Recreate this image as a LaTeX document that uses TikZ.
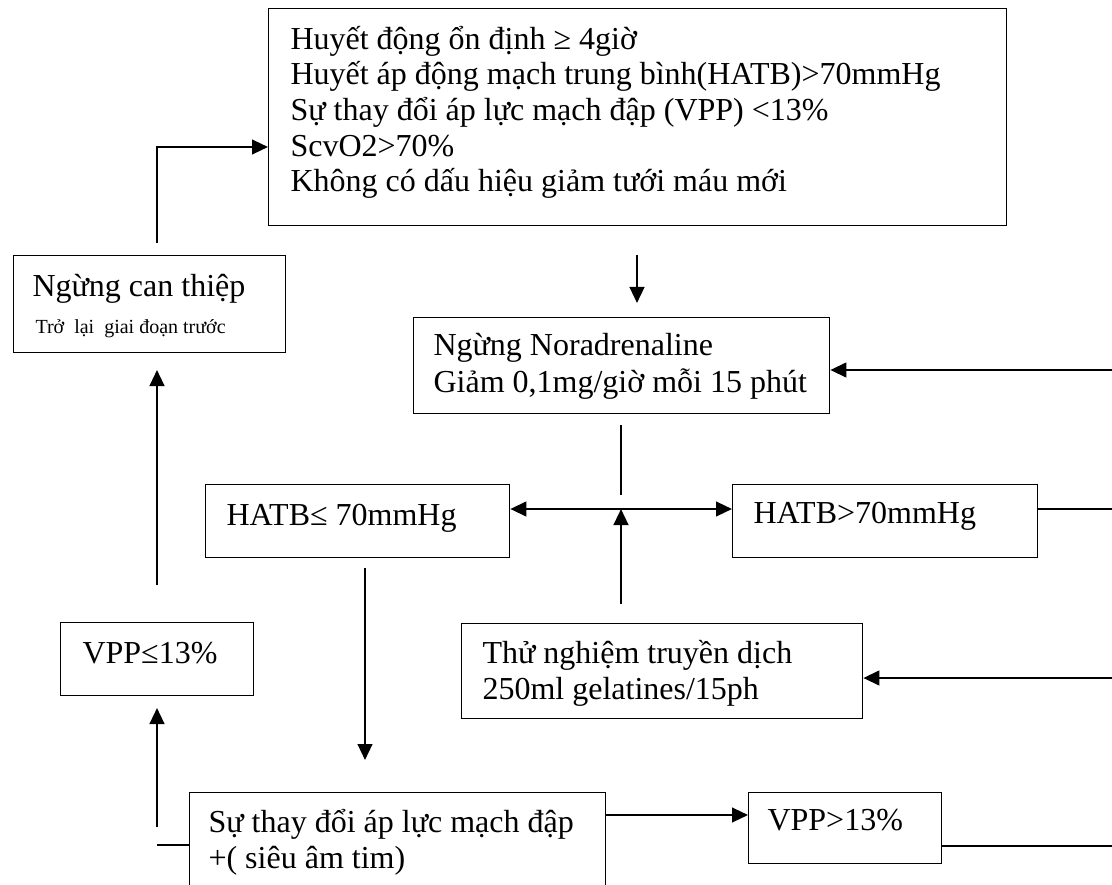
\documentclass[tikz,border=0pt]{standalone}
\usepackage{fontspec}
\setmainfont{Liberation Serif}
\usetikzlibrary{arrows.meta}
\begin{document}
\begin{tikzpicture}[x=0.375pt,y=-0.375pt,
  box/.style 2 args={draw, line width=0.5pt, inner sep=0pt, anchor=north west,
    minimum width=#1*0.375pt, minimum height=#2*0.375pt},
  txt/.style={anchor=base west, inner sep=0pt, font=\fontsize{12}{14}\selectfont},
  small/.style={anchor=base west, inner sep=0pt, font=\fontsize{7.5}{9}\selectfont},
  arr/.style={line width=0.85pt, -{Triangle[length=6pt,width=5.5pt]}},
  dbl/.style={line width=0.85pt, {Triangle[length=6pt,width=5.5pt]}-{Triangle[length=6pt,width=5.5pt]}},
  ln/.style={line width=0.5pt}]
\clip (0,0) rectangle (1112,884);
\fill[white] (0,0) rectangle (1112,884);

% boxes
\node[box={738}{217}] (top) at (268,8) {};
\node[box={272}{97}]  (stop) at (13,255) {};
\node[box={416}{96}]  (nor) at (413,317) {};
\node[box={304}{73}]  (hl) at (205,484) {};
\node[box={305}{73}]  (hr) at (732,484) {};
\node[box={401}{95}]  (th) at (461,623) {};
\node[box={193}{73}]  (vl) at (60,622) {};
\node[box={416}{120}] (bt) at (189,792) {};
\node[box={193}{71}]  (vg) at (748,792) {};

% texts
\node[txt] (t1) at (290,50)  {Huyết động ổn định ≥ 4giờ};
\node[txt] (t2) at (290,85)  {Huyết áp động mạch trung bình(HATB)>70mmHg};
\node[txt] (t3) at (290,121) {Sự thay đổi áp lực mạch đập (VPP) <13\%};
\node[txt] (t4) at (290,157) {ScvO2>70\%};
\node[txt] (t5) at (290,192) {Không có dấu hiệu giảm tưới máu mới};
\node[txt] (s1) at (32,297) {Ngừng can thiệp};
\node[small] (s2) at (35,333) {Trở~ lại~ giai đoạn trước};
\node[txt] (n1) at (433,355) {Ngừng Noradrenaline};
\node[txt] (n2) at (433,392) {Giảm 0,1mg/giờ mỗi 15 phút};
\node[txt] (h1) at (226,525) {HATB≤ 70mmHg};
\node[txt] (h2) at (753,523) {HATB>70mmHg};
\node[txt] (th1) at (482,663) {Thử nghiệm truyền dịch};
\node[txt] (th2) at (482,699) {250ml gelatines/15ph};
\node[txt] (v1) at (82,663) {VPP≤13\%};
\node[txt] (b1t) at (208,832) {Sự thay đổi áp lực mạch đập};
\node[txt] (b2t) at (208,868) {+( siêu âm tim)};
\node[txt] (v2) at (767,830) {VPP>13\%};

% free ends of connectors
\coordinate (a1) at (157,243);
\coordinate (a2) at (157,147);
\coordinate (b1) at (637,255);
\coordinate (b2) at (637,303);
\coordinate (r1) at (1112,370);
\coordinate (c1) at (621,425);
\coordinate (c2) at (621,495);
\coordinate (j)  at (621,509);
\coordinate (d1) at (621,604);
\coordinate (r2) at (1112,509);
\coordinate (r3) at (1112,678);
\coordinate (e1) at (365,568);
\coordinate (e2) at (365,760);
\coordinate (f)  at (0,815);
\coordinate (g)  at (0,846);
\coordinate (r4) at (1112,846);
\coordinate (h)  at (157,845);
\coordinate (k1) at (157,827);
\coordinate (k2) at (157,708);
\coordinate (m1) at (157,585);
\coordinate (m2) at (157,370);

% connectors
\draw[arr] (a1) -- (a2) -- (a2 -| top.west);
\draw[arr] (b1) -- (b2);
\draw[arr] (r1) -- (r1 -| nor.east);
\draw[ln]  (c1) -- (c2);
\draw[dbl] (j -| hl.east) -- (j -| hr.west);
\draw[arr] (d1) -- (j);
\draw[ln]  (j -| hr.east) -- (r2);
\draw[arr] (r3) -- (r3 -| th.east);
\draw[arr] (e1) -- (e2);
\draw[arr] (f -| bt.east) -- (f -| vg.west);
\draw[ln]  (g -| vg.east) -- (r4);
\draw[ln]  (h -| bt.west) -- (h);
\draw[arr] (k1) -- (k2);
\draw[arr] (m1) -- (m2);
\end{tikzpicture}
\end{document}
